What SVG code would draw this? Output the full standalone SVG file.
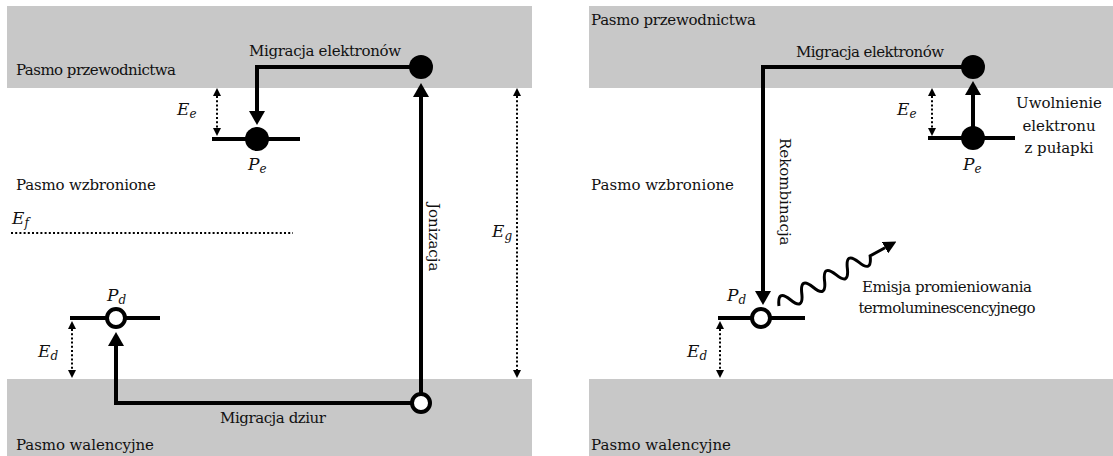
<svg xmlns="http://www.w3.org/2000/svg" width="1113" height="456" viewBox="0 0 1113 456">
<style>
.band{fill:#c8c8c8;stroke:none}
text{font-family:"DejaVu Serif","Liberation Serif",serif;fill:#111}
.t{font-size:15px}
.m{font-size:17px;font-style:italic}
.s{font-size:12px}
.mid{text-anchor:middle}
.thick{fill:none;stroke:#000;stroke-width:4}
.lvl{fill:none;stroke:#000;stroke-width:4}
.dot{fill:none;stroke:#000;stroke-width:2;stroke-dasharray:2 2.2}
.full{fill:#000;stroke:none}
.hole{fill:#fff;stroke:#000;stroke-width:4}
.wave{fill:none;stroke:#000;stroke-width:3}
</style>
<defs>
<marker id="ah" viewBox="0 -8 14 16" refX="0" refY="0" markerWidth="14" markerHeight="16" markerUnits="userSpaceOnUse" orient="auto"><path d="M0,-8 L14,0 L0,8 z" fill="#000"/></marker>
<marker id="sh" viewBox="0 -4 8 8" refX="0" refY="0" markerWidth="8" markerHeight="8" markerUnits="userSpaceOnUse" orient="auto-start-reverse"><path d="M0,-4 L8,0 L0,4 z" fill="#000"/></marker>
<marker id="wh" viewBox="0 -6.5 13 13" refX="0" refY="0" markerWidth="13" markerHeight="13" markerUnits="userSpaceOnUse" orient="auto"><path d="M0,-6.5 L13,0 L0,6.5 z" fill="#000"/></marker>
</defs>

<g id="bands">
<rect class="band" x="7" y="6" width="525" height="82"/>
<rect class="band" x="7" y="379" width="525" height="77"/>
<rect class="band" x="589" y="6" width="524" height="82"/>
<rect class="band" x="589" y="379" width="524" height="77"/>
</g>

<g id="band-labels">
<text class="t" x="16" y="75" textLength="160">Pasmo przewodnictwa</text>
<text class="t" x="16" y="190" textLength="140">Pasmo wzbronione</text>
<text class="t" x="16" y="450" textLength="138">Pasmo walencyjne</text>
<text class="t" x="591" y="25" textLength="165">Pasmo przewodnictwa</text>
<text class="t" x="591" y="190" textLength="143">Pasmo wzbronione</text>
<text class="t" x="591" y="450" textLength="140">Pasmo walencyjne</text>
</g>

<g id="connectors">
<path class="thick" d="M421,67 H257 V111" marker-end="url(#ah)"/>
<path class="thick" d="M421,403 V97" marker-end="url(#ah)"/>
<path class="thick" d="M421,403 H116 V346" marker-end="url(#ah)"/>
<path class="dot" d="M217,96 V128" marker-start="url(#sh)" marker-end="url(#sh)"/>
<path class="dot" d="M517,96 V370" marker-start="url(#sh)" marker-end="url(#sh)"/>
<path class="dot" d="M72,329 V370" marker-start="url(#sh)" marker-end="url(#sh)"/>
<path class="dot" d="M11,233 H293"/>
<path class="thick" d="M973,67 H763 V291" marker-end="url(#ah)"/>
<path class="thick" d="M973,138 V95" marker-end="url(#ah)"/>
<path class="dot" d="M932,96 V128" marker-start="url(#sh)" marker-end="url(#sh)"/>
<path class="dot" d="M720,329 V370" marker-start="url(#sh)" marker-end="url(#sh)"/>
<path class="wave" transform="translate(779,306) rotate(-28.8)" d="M0,0 Q6.5,-16 13,0 T26,0 T39,0 T52,0 T65,0 T78,0 T91,0 T104,0 L121,0" marker-end="url(#wh)"/>
</g>

<g id="connector-labels">
<text class="t mid" x="325" y="56" textLength="152">Migracja elektronów</text>
<text class="t" transform="translate(429,203) rotate(90)">Jonizacja</text>
<text class="t mid" x="273" y="423" textLength="106">Migracja dziur</text>
<text class="t mid" x="870" y="57" textLength="148">Migracja elektronów</text>
<text class="t" transform="translate(780,138) rotate(90)">Rekombinacja</text>
<text class="t mid" x="1059" y="108">Uwolnienie</text>
<text class="t mid" x="1059" y="131">elektronu</text>
<text class="t mid" x="1059" y="153">z pułapki</text>
<text class="t mid" x="947" y="292" textLength="170">Emisja promieniowania</text>
<text class="t mid" x="947" y="313" textLength="177">termoluminescencyjnego</text>
</g>

<g id="trap-Pe-left">
<path class="lvl" d="M212,139 H300"/>
<circle class="full" cx="257" cy="139" r="12"/>
<text class="m" x="248" y="170">P<tspan class="s" dy="3">e</tspan></text>
<text class="m" x="177" y="115">E<tspan class="s" dy="3">e</tspan></text>
</g>

<g id="electron-left">
<circle class="full" cx="421" cy="67" r="12"/>
</g>

<g id="hole-left">
<circle class="hole" cx="421" cy="403" r="9"/>
</g>

<g id="trap-Pd-left">
<path class="lvl" d="M70,318 H160"/>
<circle class="hole" cx="116" cy="318" r="9"/>
<text class="m" x="107" y="301">P<tspan class="s" dy="3">d</tspan></text>
<text class="m" x="38" y="357">E<tspan class="s" dy="3">d</tspan></text>
</g>

<g id="fermi-left">
<text class="m" x="12" y="224">E<tspan class="s" dy="3">f</tspan></text>
</g>

<g id="gap-left">
<text class="m" x="492" y="237">E<tspan class="s" dy="3">g</tspan></text>
</g>

<g id="electron-right">
<circle class="full" cx="973" cy="67" r="12"/>
</g>

<g id="trap-Pe-right">
<path class="lvl" d="M928,138 H1015"/>
<circle class="full" cx="973" cy="138" r="12"/>
<text class="m" x="963" y="170">P<tspan class="s" dy="3">e</tspan></text>
<text class="m" x="897" y="115">E<tspan class="s" dy="3">e</tspan></text>
</g>

<g id="trap-Pd-right">
<path class="lvl" d="M718,318 H805"/>
<circle class="hole" cx="761" cy="318" r="9"/>
<text class="m" x="727" y="301">P<tspan class="s" dy="3">d</tspan></text>
<text class="m" x="687" y="357">E<tspan class="s" dy="3">d</tspan></text>
</g>
</svg>
